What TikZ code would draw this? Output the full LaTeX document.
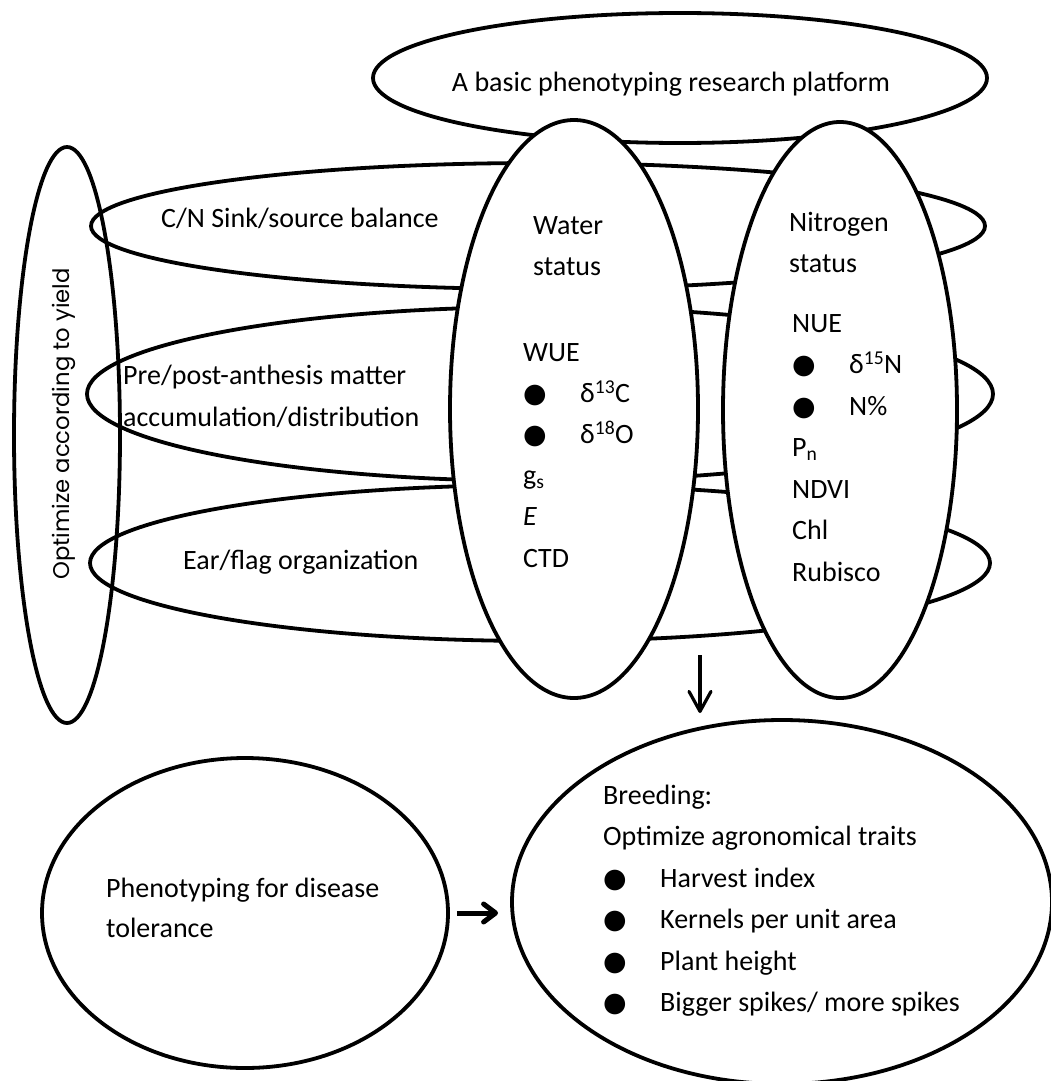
\documentclass[tikz,border=0pt]{standalone}
\usepackage{fontspec}
\setmainfont{Carlito}
\newfontfamily\gothfont{Poppins}
\newfontfamily\symfont{DejaVu Sans}
\usetikzlibrary{shapes.geometric, arrows.meta}

\newcommand{\blt}{\makebox[57pt][l]{\symfont\fontsize{27}{27}\selectfont ●}}

\tikzset{
  oval/.style={ellipse, draw, line width=3.8pt, inner sep=0pt},
  txt/.style={anchor=base west, inner sep=0pt, font=\fontsize{28}{32}\selectfont},
}

\begin{document}
\begin{tikzpicture}[x=1pt, y=-1pt]
    \useasboundingbox (0,0) rectangle (1051,1081);

    % Draw the ovals behind
    \node[oval, minimum width=614pt, minimum height=130pt] (platform) at (680,78) {};
    \node[oval, minimum width=106pt, minimum height=576pt] (optim) at (67,435) {};
    \node[oval, minimum width=894pt, minimum height=126pt] (cnbal) at (538,226) {};
    \node[oval, minimum width=906pt, minimum height=174pt] (matter) at (540,394) {};
    \node[oval, minimum width=900pt, minimum height=156pt] (earflag) at (540,563) {};

    % Draw the two status ovals on top
    \node[oval, fill=white, minimum width=248pt, minimum height=578pt] (water) at (574,409) {};
    \node[oval, fill=white, minimum width=234pt, minimum height=576pt] (nitro) at (840,410) {};

    % Bottom ovals
    \node[oval, minimum width=406pt, minimum height=310pt] (disease) at (245,913) {};
    \node[oval, minimum width=540pt, minimum height=364pt] (breed) at (782,902) {};

    % Labels
    \node[txt, anchor=base] (plattxt) at (671,92) {A basic phenotyping research platform};
    \node[rotate=90, inner sep=0pt, font=\gothfont\fontsize{22.7}{26}\selectfont] (optimtxt) at (64,424) {Optimize according to yield};
    \node[txt] (cntxt) at (161,227) {C/N Sink/source balance};
    \node[txt] (mattxt) at (123,384) {Pre/post-anthesis matter};
    \node[txt] (mattxtb) at (123,426) {accumulation/distribution};
    \node[txt] (eartxt) at (183,569) {Ear/flag organization};

    \node[txt] (wtitle) at (533,234) {Water};
    \node[txt] (wstat) at (533,275) {status};
    \node[txt] (ntitle) at (789,231) {Nitrogen};
    \node[txt] (nstat) at (789,272) {status};

    % Water traits
    \foreach \i/\t in {0/WUE, 1/{\blt δ\textsuperscript{13}C}, 2/{\blt δ\textsuperscript{18}O},
                       3/{g\textsubscript{s}}, 4/\textit{E}, 5/CTD} {
      \node[txt] (w\i) at (523,{361+41.2*\i}) {\t};
    }

    % Nitrogen traits
    \foreach \i/\t in {0/NUE, 1/{\blt δ\textsuperscript{15}N}, 2/{\blt N\%},
                       3/{P\textsubscript{n}}, 4/NDVI, 5/Chl, 6/Rubisco} {
      \node[txt] (n\i) at (792,{332+41.5*\i}) {\t};
    }

    \node[txt] (distxt) at (106,897) {Phenotyping for disease};
    \node[txt] (distxtb) at (106,937) {tolerance};

    % Breeding traits
    \foreach \i/\t in {0/Breeding:, 1/Optimize agronomical traits, 2/{\blt Harvest index},
                       3/{\blt Kernels per unit area}, 4/{\blt Plant height},
                       5/{\blt Bigger spikes/ more spikes}} {
      \node[txt] (b\i) at (603,{804+41.5*\i}) {\t};
    }

    % Arrows
    \coordinate (dtop) at (700,655);
    \coordinate (dtip) at (700,713);
    \draw[line width=3.2pt, -{Straight Barb[length=20pt, width=22pt, round]}] (dtop) -- (dtip);
    \draw[line width=5pt, -{Straight Barb[length=12pt, width=18pt, round]}]
      ([xshift=7pt]disease.east) -- ([xshift=-12pt]breed.west |- disease.east);

\end{tikzpicture}
\end{document}
